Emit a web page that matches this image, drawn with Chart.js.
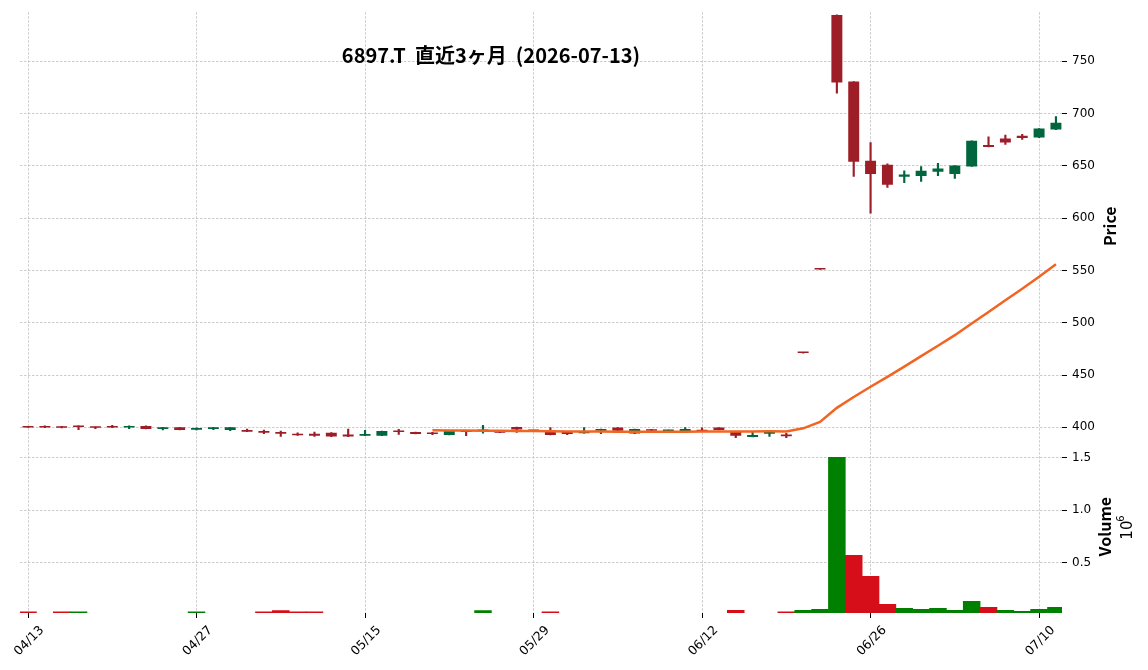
<!DOCTYPE html>
<html>
<head>
<meta charset="utf-8">
<script src="https://cdn.jsdelivr.net/npm/chart.js@4.4.1/dist/chart.umd.min.js"></script>
<style>
  html, body { margin: 0; padding: 0; background: #fff; }
  canvas { display: block; }
</style>
</head>
<body>
<canvas id="chart" width="1148" height="670"></canvas>
<script>
// trading days shown on the x axis
const dates = [
  '04/13','04/14','04/15','04/16','04/17','04/20','04/21','04/22','04/23','04/24',
  '04/27','04/28','04/30','05/01','05/07','05/08','05/11','05/12','05/13','05/14',
  '05/15','05/18','05/19','05/20','05/21','05/22','05/25','05/26','05/27','05/28',
  '05/29','06/01','06/02','06/03','06/04','06/05','06/08','06/09','06/10','06/11',
  '06/12','06/15','06/16','06/17','06/18','06/19','06/22','06/23','06/24','06/25',
  '06/26','06/29','06/30','07/01','07/02','07/03','07/06','07/07','07/08','07/09',
  '07/10','07/13'
];

const opens = [
  400.2, 401.3, 400.1, 401.3, 400.2, 400.2, 399.7, 401.3, 398.4, 400.0,
  397.6, 398.4, 397.4, 397.4, 396.5, 395.5, 393.3, 393.9, 394.9, 393.0,
  392.0, 392.0, 396.5, 395.5, 394.6, 392.7, 397.1, 396.5, 396.5, 400.3,
  396.5, 395.5, 395.5, 394.3, 396.8, 399.7, 394.0, 397.4, 396.5, 396.5,
  397.1, 399.7, 395.5, 390.7, 393.9, 393.0, 471.0, 551.0, 794.3, 730.6,
  654.8, 651.0, 639.5, 640.4, 644.3, 642.3, 649.4, 670.0, 676.1, 678.7,
  677.0, 684.7
];
const highs = [
  400.3, 401.3, 401.0, 401.5, 400.2, 402.0, 401.3, 401.3, 400.0, 400.0,
  399.4, 400.0, 400.0, 398.4, 397.4, 396.5, 394.6, 395.5, 394.9, 398.4,
  397.1, 396.5, 398.0, 395.5, 395.2, 396.8, 397.1, 401.9, 396.5, 400.3,
  396.5, 399.7, 395.5, 399.7, 398.4, 399.7, 398.4, 398.1, 397.4, 399.7,
  399.4, 399.7, 395.5, 395.5, 395.8, 394.3, 471.0, 551.0, 794.3, 730.6,
  672.3, 651.9, 645.2, 649.4, 652.5, 650.3, 673.9, 677.7, 679.3, 680.2,
  685.7, 697.1
];
const lows = [
  399.8, 399.7, 399.5, 397.8, 398.8, 399.7, 398.8, 398.4, 397.4, 397.4,
  397.6, 397.8, 396.8, 395.8, 393.9, 391.4, 392.3, 391.4, 391.1, 391.1,
  392.0, 392.0, 393.3, 393.6, 393.0, 392.7, 392.0, 394.3, 394.9, 395.2,
  396.5, 392.7, 393.0, 394.3, 394.0, 396.8, 394.0, 396.8, 396.5, 396.5,
  396.2, 397.4, 390.1, 390.7, 391.4, 390.1, 471.0, 551.0, 719.4, 639.8,
  604.8, 629.3, 634.0, 635.0, 640.7, 637.9, 649.4, 668.1, 670.4, 675.2,
  677.0, 684.7
];
const closes = [
  399.8, 399.7, 399.5, 400.2, 399.6, 399.7, 401.3, 398.4, 400.0, 397.4,
  399.4, 400.0, 400.0, 395.8, 394.9, 393.9, 392.3, 392.0, 391.1, 391.1,
  393.6, 396.5, 395.5, 393.6, 393.6, 396.8, 395.5, 397.4, 394.9, 397.8,
  396.5, 392.7, 393.6, 395.2, 398.4, 396.8, 398.4, 396.8, 397.4, 398.4,
  396.2, 397.4, 392.0, 392.7, 395.8, 391.4, 471.0, 551.0, 729.6, 653.8,
  642.3, 631.8, 641.6, 645.2, 647.4, 650.3, 673.9, 668.1, 672.3, 676.7,
  685.7, 691.1
];
const volumes = [
  30000, 12000, 30000, 30000, 9000, 11000, 14000, 10000, 13000, 8000,
  30000, 12000, 15000, 16000, 30000, 44000, 30000, 30000, 17000, 15000,
  13000, 18000, 9000, 10000, 11000, 17000, 12000, 44000, 9000, 14000,
  6000, 30000, 10000, 12000, 15000, 11000, 16000, 8000, 9000, 13000,
  10000, 14000, 46000, 12000, 15000, 30000, 46000, 55000, 1503000, 569000,
  370000, 103000, 65000, 55000, 65000, 46000, 131000, 74000, 46000, 36000,
  55000, 74000
];

// 25-day moving average, starts at index 24
const maStart = 24;
const ma25 = [
  397.2, 397.0, 396.9, 396.8, 396.6, 396.5, 396.4, 396.2, 396.0, 395.9,
  395.9, 395.8, 395.8, 395.7, 395.7, 395.8, 395.9, 396.0, 396.0, 396.1,
  396.2, 396.1, 399.0, 405.2, 418.6, 429.0, 438.8, 448.2, 458.0, 468.0,
  478.0, 488.1, 499.3, 510.3, 521.4, 532.5, 544.0, 555.8
];

const dateTicks = [0, 10, 20, 30, 40, 50, 60];
const priceTicks = [400, 450, 500, 550, 600, 650, 700, 750];
const volumeTicks = [500000, 1000000, 1500000];

const titleText = '6897.T  直近3ヶ月  (2026-07-13)';

const upColor = '#00663d';
const downColor = '#9e1e28';
const volUpColor = '#008000';
const volDownColor = '#d50e19';
const gridColor = '#c0c0c0';

const candleColors = closes.map((c, i) => c > opens[i] ? upColor : downColor);
const volumeColors = closes.map((c, i) => {
  const prev = i === 0 ? opens[0] : closes[i - 1];
  return c >= prev ? volUpColor : volDownColor;
});

const tickFont = { family: 'DejaVu Sans', size: 12 };

// draws the title and the rotated axis names
const textPlugin = {
  id: 'textPlugin',
  afterDraw(chart) {
    const { ctx, chartArea, scales } = chart;
    ctx.save();
    ctx.fillStyle = '#000';
    ctx.textAlign = 'center';
    ctx.textBaseline = 'middle';
    ctx.font = 'bold 20px "Noto Sans CJK JP"';
    ctx.fillText(titleText, chartArea.left + chartArea.width * 0.452, chartArea.top + 43);

    const py = scales.y;
    ctx.save();
    ctx.translate(py.left + 48, (py.top + py.bottom) / 2);
    ctx.rotate(-Math.PI / 2);
    ctx.font = 'bold 16px "Noto Sans CJK JP"';
    ctx.fillText('Price', 0, 0);
    ctx.restore();

    const vy = scales.yVol;
    const vmid = (vy.top + vy.bottom) / 2;
    ctx.save();
    ctx.translate(vy.left + 43, vmid);
    ctx.rotate(-Math.PI / 2);
    ctx.font = 'bold 16px "Noto Sans CJK JP"';
    ctx.fillText('Volume', 0, 0);
    ctx.restore();

    ctx.save();
    ctx.translate(vy.left + 66, vmid + 2);
    ctx.rotate(-Math.PI / 2);
    ctx.textAlign = 'left';
    ctx.font = '15px "DejaVu Sans"';
    ctx.fillText('10', -11, 0);
    ctx.font = '10px "DejaVu Sans"';
    ctx.fillText('6', 7, -7);
    ctx.restore();

    ctx.restore();
  }
};

new Chart(document.getElementById('chart'), {
  type: 'bar',
  data: {
    datasets: [
      {
        type: 'line',
        label: 'MA25',
        data: ma25.map((v, k) => ({ x: maStart + k, y: v })),
        yAxisID: 'y',
        borderColor: '#f26422',
        borderWidth: 2.5,
        pointRadius: 0,
        tension: 0,
        order: 1
      },
      {
        label: 'body',
        data: dates.map((d, i) => ({ x: i, y: [opens[i], closes[i]] })),
        yAxisID: 'y',
        backgroundColor: candleColors,
        barPercentage: 0.65,
        categoryPercentage: 1,
        minBarLength: 1.5,
        grouped: false,
        order: 2
      },
      {
        label: 'wick',
        data: dates.map((d, i) => ({ x: i, y: [lows[i], highs[i]] })),
        yAxisID: 'y',
        backgroundColor: candleColors,
        barThickness: 1.5,
        grouped: false,
        order: 3
      },
      {
        label: 'volume',
        data: dates.map((d, i) => ({ x: i, y: volumes[i] })),
        yAxisID: 'yVol',
        backgroundColor: volumeColors,
        barPercentage: 1,
        categoryPercentage: 1,
        grouped: false,
        order: 4
      }
    ]
  },
  options: {
    responsive: false,
    animation: false,
    layout: { padding: { left: 20, top: 12, right: 0, bottom: 0 } },
    plugins: {
      legend: { display: false },
      tooltip: { enabled: false },
      title: { display: false }
    },
    scales: {
      x: {
        type: 'linear',
        offset: false,
        min: -0.475,
        max: 61.36,
        afterBuildTicks: s => { s.ticks = dateTicks.map(v => ({ value: v })); },
        afterFit: s => { s.height = 57; s.paddingLeft = 0; s.paddingRight = 0; },
        ticks: {
          callback: v => dates[v],
          autoSkip: false,
          minRotation: 45,
          maxRotation: 45,
          labelOffset: 14,
          padding: 5,
          color: '#000',
          font: { family: 'DejaVu Sans', size: 12.5 }
        },
        grid: { offset: false, color: gridColor, lineWidth: 0.8, tickColor: '#000', tickLength: 5, tickWidth: 1 },
        border: { display: false, dash: [2.5, 1.5] }
      },
      y: {
        type: 'linear',
        position: 'right',
        stack: 'panels',
        stackWeight: 428,
        min: 387.6,
        max: 796.9,
        afterBuildTicks: s => { s.ticks = priceTicks.map(v => ({ value: v })); },
        afterFit: s => { s.width = 86; },
        ticks: { callback: v => String(v), color: '#000', font: tickFont, padding: 5 },
        grid: { color: gridColor, lineWidth: 0.8, tickColor: '#000', tickLength: 5, tickWidth: 1 },
        border: { display: false, dash: [2.5, 1.5] }
      },
      yVol: {
        type: 'linear',
        position: 'right',
        stack: 'panels',
        stackWeight: 172.7,
        min: 20000,
        max: 1665000,
        afterBuildTicks: s => { s.ticks = volumeTicks.map(v => ({ value: v })); },
        afterFit: s => { s.width = 86; },
        ticks: { callback: v => (v / 1e6).toFixed(1), color: '#000', font: tickFont, padding: 5 },
        grid: { color: gridColor, lineWidth: 0.8, tickColor: '#000', tickLength: 5, tickWidth: 1 },
        border: { display: false, dash: [2.5, 1.5] }
      }
    }
  },
  plugins: [textPlugin]
});
</script>
</body>
</html>
